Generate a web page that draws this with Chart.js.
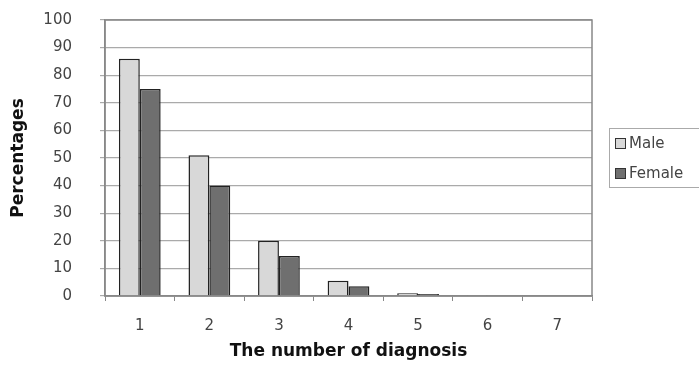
<!DOCTYPE html>
<html>
<head>
<meta charset="utf-8">
<script src="https://cdn.jsdelivr.net/npm/chart.js@4.4.0/dist/chart.umd.min.js"></script>
<style>
  body { margin: 0; background: #fff; }
  #wrap { position: relative; width: 699px; height: 366px; }
  #legend {
    position: absolute; left: 609px; top: 128px; width: 100px; height: 60px;
    border: 1px solid #aaa; box-sizing: border-box;
    font-family: "DejaVu Sans", sans-serif; font-size: 15px; color: #444;
  }
  .item { position: absolute; left: 5px; display: flex; align-items: center; }
  .sw { width: 9px; height: 9px; border: 1.5px solid #333; margin-right: 3px; }
</style>
</head>
<body>
<div id="wrap">
  <canvas id="chart" width="699" height="366"></canvas>
  <div id="legend">
    <div class="item" style="top:5px"><span class="sw" style="background:#d8d8d8"></span>Male</div>
    <div class="item" style="top:35px"><span class="sw" style="background:#6f6f6f"></span>Female</div>
  </div>
</div>
<script>
const categories = ["1", "2", "3", "4", "5", "6", "7"];
const male = [86, 51, 20, 5.5, 1, 0.3, 0];
const female = [75, 40, 14.5, 3.5, 0.7, 0.2, 0];
const yTicks = [0, 10, 20, 30, 40, 50, 60, 70, 80, 90, 100];

const tickFont = { family: "'DejaVu Sans', sans-serif", size: 15 };
const titleFont = { family: "'DejaVu Sans', sans-serif", size: 17, weight: "bold" };

// frame around the plot area (top and right edges)
const frame = {
  id: "frame",
  afterDraw(chart) {
    const a = chart.chartArea;
    const ctx = chart.ctx;
    ctx.save();
    ctx.strokeStyle = "#888";
    ctx.lineWidth = 1.5;
    ctx.strokeRect(a.left, a.top, a.right - a.left, a.bottom - a.top);
    ctx.restore();
  },
};

new Chart(document.getElementById("chart"), {
  type: "bar",
  data: {
    labels: categories,
    datasets: [
      { label: "Male", data: male, backgroundColor: "#d8d8d8", borderColor: "#222", borderWidth: 1.5 },
      { label: "Female", data: female, backgroundColor: "#6f6f6f", borderColor: "#222", borderWidth: 1.5 },
    ],
  },
  options: {
    responsive: false,
    animation: false,
    categoryPercentage: 0.6,
    barPercentage: 1,
    layout: { padding: { top: 20, right: 107, left: 0, bottom: 0 } },
    plugins: { legend: { display: false }, tooltip: { enabled: false } },
    scales: {
      x: {
        grid: { offset: true, drawOnChartArea: false, drawTicks: true, tickLength: 5, color: "#888" },
        border: { color: "#888", width: 1.5 },
        ticks: { font: tickFont, color: "#444", padding: 16 },
        title: { display: true, text: "The number of diagnosis", font: titleFont, color: "#111", padding: { top: 9 } },
        afterFit(scale) { scale.height = 70; },
      },
      y: {
        min: 0,
        max: 100,
        afterBuildTicks(scale) { scale.ticks = yTicks.map((v) => ({ value: v })); },
        grid: { color: "#aaa", lineWidth: 1.2, tickLength: 5 },
        border: { color: "#888", width: 1.5 },
        ticks: { font: tickFont, color: "#444", padding: 28 },
        title: { display: true, text: "Percentages", font: titleFont, color: "#111", padding: { top: 8, bottom: 0 } },
        afterFit(scale) {
          scale.width = 105;
          scale.paddingTop = 0;
          scale.paddingBottom = 0;
        },
      },
    },
  },
  plugins: [frame],
});
</script>
</body>
</html>
